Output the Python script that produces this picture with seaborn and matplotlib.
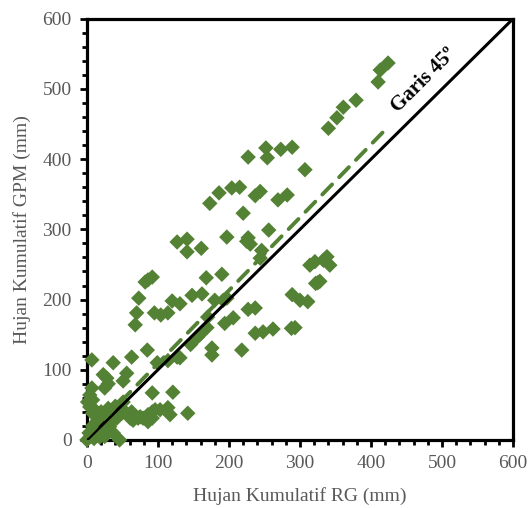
import numpy as np
import pandas as pd
import matplotlib
matplotlib.use("Agg")
import matplotlib.pyplot as plt
from matplotlib.ticker import MultipleLocator
import seaborn as sns

GREEN = "#548235"

# hujan kumulatif: rain gauge (RG) vs GPM, mm
rg = [424, 413, 410, 379, 361, 352, 340,
      307, 289, 273, 252, 254, 227,
      204, 215, 186, 173, 237, 244, 269, 282,
      220, 256, 197, 227, 225, 230,
      127, 141, 141, 161, 92, 82, 86, 168, 190,
      73, 70, 68, 95, 104, 114,
      120, 131, 148, 162, 180, 192, 197,
      170, 194, 206, 246, 244, 227, 237,
      169, 159, 237, 248, 262, 288, 293,
      218, 176, 176, 146, 156,
      314, 321, 338, 342, 325, 289, 300, 311, 322, 328, 333,
      7, 37, 63, 85, 99, 114, 127, 131,
      23, 28, 30, 25, 56, 51,
      7, 4, 1, 8, 4, 7, 8, 15,
      92, 121, 142, 103, 114, 117,
      75, 82, 65, 72, 79, 86, 92, 96,
      51, 51, 44, 49,
      0, 11, 18, 28, 32, 37, 18, 46, 14, 23, 32, 42,
      61, 63, 92, 86,
      5, 10, 3, 25, 20, 8, 15, 20, 30, 40, 35]
gpm = [537, 527, 510, 484, 474, 459, 444,
       385, 417, 414, 416, 402, 403,
       359, 360, 352, 337, 348, 354, 342, 349,
       323, 299, 289, 288, 283, 279,
       282, 286, 268, 273, 232, 225, 228, 231, 236,
       202, 181, 164, 181, 178, 181,
       198, 194, 206, 208, 199, 199, 202,
       175, 166, 174, 270, 259, 186, 188,
       160, 150, 152, 154, 158, 159, 160,
       128, 131, 121, 136, 147,
       249, 254, 261, 249, 224, 207, 199, 197, 223, 226, 256,
       114, 110, 118, 128, 110, 113, 118, 117,
       93, 88, 80, 74, 95, 84,
       74, 64, 54, 57, 47, 47, 38, 38,
       67, 68, 38, 43, 46, 36,
       33, 31, 28, 31, 31, 36, 40, 43,
       54, 43, 36, 38,
       0, 14, 24, 31, 19, 10, 4, 0, 10, 19, 24, 31,
       31, 40, 31, 26,
       5, 2, 10, 5, 12, 20, 28, 40, 45, 48, 30]

# garis tren linear
trend_slope = 1.04
trend_intercept = 5.0
trend_x = [0, 422]

df = pd.DataFrame({"RG": rg, "GPM": gpm})

sns.set_style("white")
plt.rcParams["font.family"] = ["Liberation Serif", "DejaVu Serif"]

fig = plt.figure(figsize=(5.3, 5.08), dpi=100)
ax = fig.add_axes([0.164, 0.134, 0.804, 0.829])

sns.scatterplot(data=df, x="RG", y="GPM", marker="D", s=62, color=GREEN,
                edgecolor="none", linewidth=0, ax=ax, zorder=3, clip_on=False)

ax.plot([0, 600], [0, 600], color="black", lw=2.2, zorder=4)
tx = np.array(trend_x, dtype=float)
ax.plot(tx, trend_slope * tx + trend_intercept, color=GREEN, lw=2.8,
        linestyle=(0, (3.6, 2.6)), dash_capstyle="round", zorder=4)

ax.text(474, 512, "Garis 45º", rotation=45, fontsize=15, fontweight="bold",
        ha="center", va="center", color="black")

ax.set_xlim(0, 600)
ax.set_ylim(0, 600)
ax.xaxis.set_major_locator(MultipleLocator(100))
ax.yaxis.set_major_locator(MultipleLocator(100))
ax.xaxis.set_minor_locator(MultipleLocator(20))
ax.yaxis.set_minor_locator(MultipleLocator(20))
ax.tick_params(which="major", direction="out", length=5, width=2,
               color="black", labelsize=14, labelcolor="#595959", pad=6,
               bottom=True, left=True)
ax.tick_params(which="minor", direction="out", length=3.5, width=2,
               color="black", bottom=True, left=True)

for sp in ax.spines.values():
    sp.set_visible(True)
    sp.set_color("black")
    sp.set_linewidth(2.3)
    sp.set_zorder(2)

ax.set_xlabel("Hujan Kumulatif RG (mm)", fontsize=14, color="#595959", labelpad=11)
ax.set_ylabel("Hujan Kumulatif GPM (mm)", fontsize=14, color="#595959", labelpad=8)

plt.savefig("out.png", dpi=100)
plt.close()
